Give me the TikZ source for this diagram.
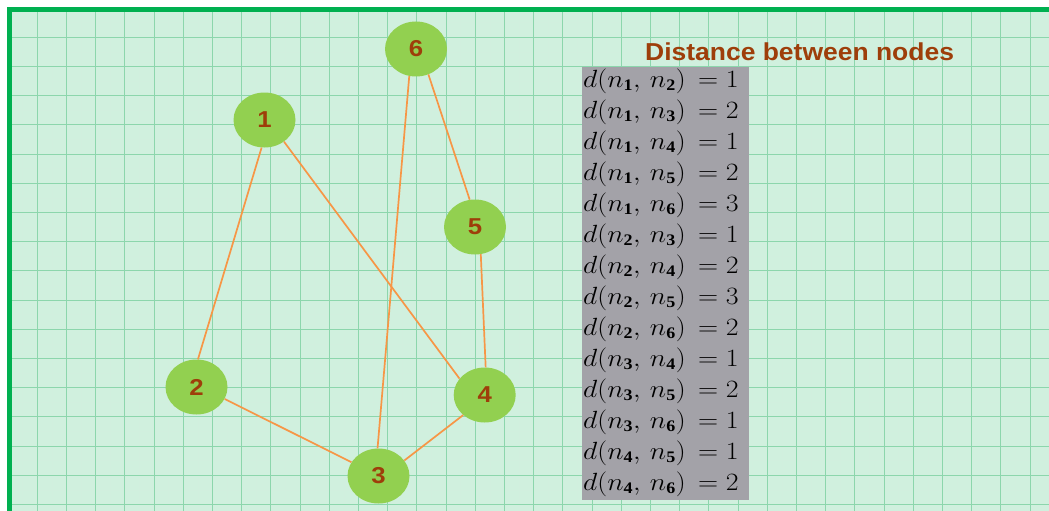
\documentclass[tikz,border=0pt]{standalone}
\usepackage{fontspec}
\setmainfont{Liberation Serif}
\setsansfont{Liberation Sans}
\usetikzlibrary{shapes.geometric}
\definecolor{mint}{RGB}{208,240,222}
\definecolor{gridgreen}{RGB}{140,214,172}
\definecolor{framegreen}{RGB}{0,176,80}
\definecolor{nodegreen}{RGB}{146,208,80}
\definecolor{labelbrown}{RGB}{158,62,10}
\definecolor{edgeorange}{RGB}{247,150,70}
\definecolor{tablegray}{RGB}{163,162,168}
\tikzstyle{vertex}=[ellipse,fill=nodegreen,minimum width=62pt,minimum height=55pt,inner sep=0pt,font=\sffamily\bfseries\fontsize{23}{23}\selectfont,text=labelbrown]
\tikzstyle{link}=[draw=edgeorange,line width=1.7pt]
\newcommand{\wide}[1]{\scalebox{1.12}[1]{#1}}

\begin{document}
\begin{tikzpicture}[x=1pt,y=-1pt,
  dist/.style={anchor=base west,inner sep=0pt,font=\fontsize{23}{23}\selectfont,text=black},
  title/.style={anchor=base west,inner sep=0pt,font=\sffamily\bfseries\fontsize{24.5}{24.5}\selectfont,text=labelbrown},
  minor/.style={gridgreen!40,line width=0.5pt},
  major/.style={gridgreen,line width=0.9pt},
]
\useasboundingbox (0,0) rectangle (1049,511);
% squared paper
\fill[mint] (12,12) rectangle (1049,511);
\begin{scope}
  \clip (12,12) rectangle (1049,511);
  \foreach \i in {0,...,72} {
    \draw[minor] ({22.6+14.6*\i},12) -- ({22.6+14.6*\i},511);
  }
  \foreach \i in {0,...,34} {
    \draw[minor] (12,{22.6+14.6*\i}) -- (1049,{22.6+14.6*\i});
  }
  \foreach \i in {1,...,36} {
    \draw[major] ({8+29.2*\i},12) -- ({8+29.2*\i},511);
  }
  \foreach \i in {1,...,17} {
    \draw[major] (12,{8+29.2*\i}) -- (1049,{8+29.2*\i});
  }
\end{scope}
\draw[framegreen,line width=5.3pt] (9.3,511) -- (9.3,9.3) -- (1049,9.3);

% graph
\node[vertex] (n1) at (264.5,120) {\wide{1}};
\node[vertex] (n2) at (196.5,387) {\wide{2}};
\node[vertex] (n3) at (378.5,476) {\wide{3}};
\node[vertex] (n4) at (484.7,395) {\wide{4}};
\node[vertex] (n5) at (475,227) {\wide{5}};
\node[vertex] (n6) at (416,49) {\wide{6}};

\draw[link] (n1.264) -- (n2.87);
\draw[link] (n1.-48) -- (n4.147);
\draw[link] (n6.256) -- (n3.92);
\draw[link] (n6.-64) -- (n5.101);
\draw[link] (n5.-78) -- (n4.88);
\draw[link] (n2.-23) -- (n3.153);
\draw[link] (n3.31) -- (n4.-137);

% distances
\node[title] (head) at (645,60.5) {\scalebox{1.08}[1]{Distance between nodes}};
\fill[tablegray] (582,67) rectangle (749,500);
\foreach \a/\b/\d [count=\r from 0] in {1/2/1,1/3/2,1/4/1,1/5/2,1/6/3,2/3/1,2/4/2,2/5/3,2/6/2,3/4/1,3/5/2,3/6/1,4/5/1,4/6/2}
  \node[dist] (d\a\b) at (583,{87+31*\r}) {\wide{$d(n_{\mathbf{\a}},\,n_{\mathbf{\b}})\,=\d$}};
\end{tikzpicture}
\end{document}
